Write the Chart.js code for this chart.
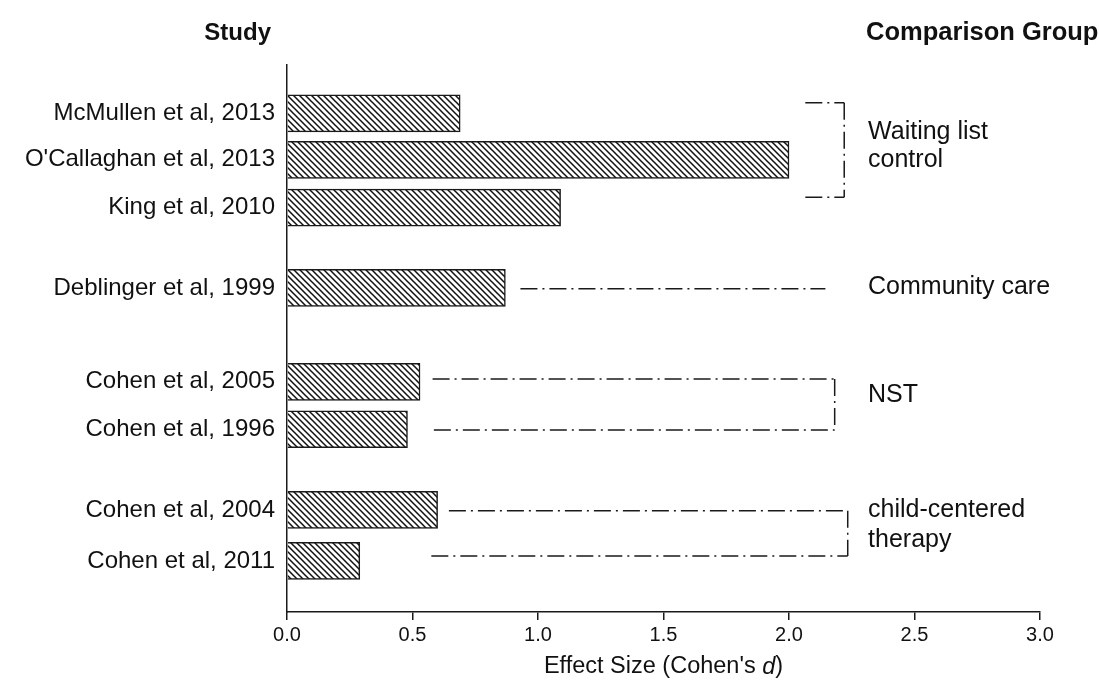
<!DOCTYPE html>
<html><head><meta charset="utf-8">
<script src="https://cdn.jsdelivr.net/npm/chart.js@4.4.1/dist/chart.umd.min.js"></script>
<style>html,body{margin:0;padding:0;background:#fff;}canvas{display:block;}</style>
</head><body>
<canvas id="c" width="1099" height="680"></canvas>
<script>
// ---- data ----
const studies = ["McMullen et al, 2013","O'Callaghan et al, 2013","King et al, 2010","Deblinger et al, 1999","Cohen et al, 2005","Cohen et al, 1996","Cohen et al, 2004","Cohen et al, 2011"];
const effectSizes = [0.69, 2.00, 1.09, 0.87, 0.53, 0.48, 0.60, 0.29];
const rowPositions = [1.06, 2.08, 3.13, 4.89, 6.95, 7.99, 9.76, 10.88];
const xTicks = [0, 0.5, 1.0, 1.5, 2.0, 2.5, 3.0];
const groupNames = [["Waiting list","control"],["Community care"],["NST"],["child-centered","therapy"]];

// ---- annotation layout (data units) ----
const bracketLayout = [
  {segments:[[2.065,2.22,0.83],[2.065,2.22,2.90]], vertical:[2.22,0.83,2.90], labelY:[1.47,2.08]},
  {segments:[[0.93,2.145,4.91]], vertical:null, labelY:[4.87]},
  {segments:[[0.58,2.182,6.89],[0.585,2.182,8.01]], vertical:[2.182,6.89,8.01], labelY:[7.24]},
  {segments:[[0.645,2.234,9.78],[0.575,2.234,10.77]], vertical:[2.234,9.78,10.77], labelY:[9.76,10.42]}
];
const labelX = 2.315;
const FONT = "'Liberation Sans', Arial, Helvetica, sans-serif";

const canvas = document.getElementById('c');
const ctx0 = canvas.getContext('2d');
function hatchPattern(){
  const s = 6, c = document.createElement('canvas');
  c.width = s; c.height = s;
  const g = c.getContext('2d');
  g.fillStyle = '#fff'; g.fillRect(0,0,s,s);
  g.strokeStyle = '#111'; g.lineWidth = 1.5;
  g.beginPath();
  g.moveTo(-1,-1); g.lineTo(s+1,s+1);
  g.moveTo(-1,s-1); g.lineTo(1,s+1);
  g.moveTo(s-1,-1); g.lineTo(s+1,1);
  g.stroke();
  return ctx0.createPattern(c,'repeat');
}

const annotations = {
  id:'annotations',
  afterDraw(chart){
    const {ctx, scales:{x,y}, chartArea} = chart;
    ctx.save();
    ctx.strokeStyle = '#1a1a1a'; ctx.lineWidth = 1.5;
    ctx.setLineDash([17,5,2,5]);
    bracketLayout.forEach(b=>{
      b.segments.forEach(([x0,x1,yy])=>{
        ctx.beginPath();
        ctx.moveTo(x.getPixelForValue(x0), y.getPixelForValue(yy));
        ctx.lineTo(x.getPixelForValue(x1), y.getPixelForValue(yy));
        ctx.stroke();
      });
      if(b.vertical){
        const [vx,y0,y1] = b.vertical;
        ctx.beginPath();
        ctx.moveTo(x.getPixelForValue(vx), y.getPixelForValue(y0));
        ctx.lineTo(x.getPixelForValue(vx), y.getPixelForValue(y1));
        ctx.stroke();
      }
    });
    ctx.setLineDash([]);
    ctx.fillStyle = '#111';
    ctx.textBaseline = 'middle';
    ctx.textAlign = 'left';
    ctx.font = '25px ' + FONT;
    bracketLayout.forEach((b,i)=>{
      groupNames[i].forEach((t,j)=>{
        ctx.fillText(t, x.getPixelForValue(labelX), y.getPixelForValue(b.labelY[j]));
      });
    });
    // headings
    ctx.font = 'bold 24px ' + FONT;
    ctx.textAlign = 'right';
    ctx.fillText('Study', chartArea.left - 16, 33);
    ctx.textAlign = 'left';
    ctx.font = 'bold 25.5px ' + FONT;
    ctx.fillText('Comparison Group', x.getPixelForValue(labelX) - 2, 33);
    // x-axis title with italic d
    const parts = [["Effect Size (Cohen's ", 'normal'],['d','italic'],[')','normal']];
    const fs = ' 23.5px ';
    let total = 0;
    parts.forEach(p=>{ ctx.font = p[1]+fs+FONT; total += ctx.measureText(p[0]).width; });
    let cx = (chartArea.left + chartArea.right)/2 - total/2;
    parts.forEach(p=>{ ctx.font = p[1]+fs+FONT; ctx.fillText(p[0], cx, 667); cx += ctx.measureText(p[0]).width; });
    ctx.restore();
  }
};

new Chart(canvas, {
  type:'bar',
  data:{
    datasets:[{
      data: effectSizes.map((v,i)=>({x:v, y:rowPositions[i]})),
      backgroundColor: hatchPattern(),
      borderColor:'#1a1a1a',
      borderWidth:1.5,
      barThickness:37
    }]
  },
  options:{
    indexAxis:'y',
    responsive:false,
    animation:false,
    layout:{padding:{left:0,right:59,top:65,bottom:0}},
    plugins:{legend:{display:false}, tooltip:{enabled:false}},
    scales:{
      x:{
        type:'linear', min:0, max:3, position:'bottom', offset:false,
        afterBuildTicks: ax => { ax.ticks = xTicks.map(v=>({value:v})); },
        ticks:{callback: v => Number(v).toFixed(1), color:'#111', font:{family:FONT, size:20}, padding:3, maxRotation:0, autoSkip:false},
        grid:{display:true, offset:false, drawOnChartArea:false, drawTicks:true, tickLength:8, color:'#1a1a1a', lineWidth:1.5},
        border:{display:true, color:'#1a1a1a', width:1.5},
        afterFit: s => { s.height = 68; }
      },
      y:{
        type:'linear', min:0, max:12, reverse:true, position:'left', offset:false,
        afterBuildTicks: ax => { ax.ticks = rowPositions.map(v=>({value:v})); },
        ticks:{callback:(v,i)=>studies[i], color:'#111', font:{family:FONT, size:24}, padding:12, autoSkip:false},
        grid:{display:false, offset:false, drawTicks:false},
        border:{display:true, color:'#1a1a1a', width:1.5},
        afterFit: s => { s.width = 287; }
      }
    }
  },
  plugins:[annotations]
});
</script>
</body></html>
